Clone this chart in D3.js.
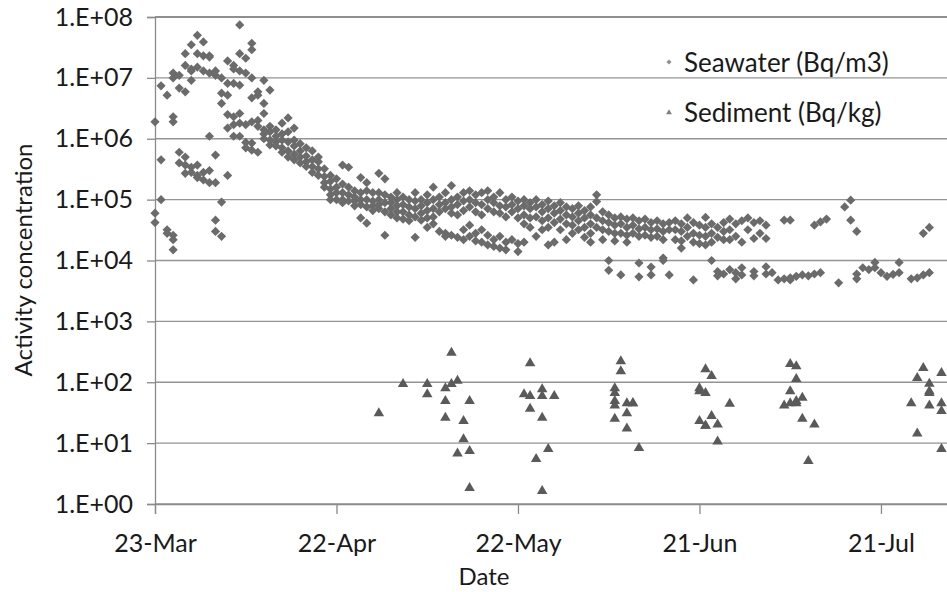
<!DOCTYPE html>
<html>
<head>
<meta charset="utf-8">
<script src="https://cdn.jsdelivr.net/npm/d3@7"></script>
<style>
  body { margin: 0; background: #fff; }
  svg text { font-family: Lato, "Open Sans", sans-serif; fill: #1a1a1a; }
</style>
</head>
<body>
<div id="chart"></div>
<script>
const year = 2011;

// seawater activity (Bq/m3), several stations per sampling day
const seawater = [
  ["3/23", [1.9e6, 6.0e4, 4.2e4]],
  ["3/24", [7.4e6, 4.5e5, 1.0e5]],
  ["3/25", [5.2e6, 3.2e4, 2.8e4]],
  ["3/26", [1.2e7, 1.0e7, 2.3e6, 1.9e6, 2.6e4, 2.2e4, 1.5e4]],
  ["3/27", [1.1e7, 6.8e6, 6.0e5, 4.0e5]],
  ["3/28", [2.5e7, 1.6e7, 5.9e6, 5.0e5, 3.7e5, 2.7e5]],
  ["3/29", [3.5e7, 1.4e7, 1.3e7, 9.1e6, 3.4e5, 2.8e5]],
  ["3/30", [5.0e7, 2.5e7, 1.5e7, 3.7e5, 2.3e5, 2.5e5]],
  ["3/31", [3.9e7, 2.3e7, 1.3e7, 2.1e5, 2.8e5]],
  ["4/1", [2.3e7, 2.2e7, 1.2e7, 1.1e6, 3.0e5, 1.9e5]],
  ["4/2", [1.3e7, 1.1e7, 5.4e5, 1.9e5, 4.6e4, 3.0e4]],
  ["4/3", [1.0e7, 5.6e6, 3.8e6, 9.1e4, 2.5e4]],
  ["4/4", [1.9e7, 8.1e6, 5.2e6, 2.5e6, 1.5e6, 2.5e5]],
  ["4/5", [1.6e7, 1.4e7, 8.1e6, 2.3e6, 1.7e6, 1.1e6]],
  ["4/6", [7.4e7, 2.5e7, 1.3e7, 7.6e6, 2.6e6, 1.8e6, 1.1e6]],
  ["4/7", [2.1e7, 1.2e7, 1.7e6, 8.7e5, 7.1e5]],
  ["4/8", [3.7e7, 2.9e7, 1.0e7, 4.7e6, 1.9e6, 8.5e5, 6.5e5]],
  ["4/9", [5.2e6, 5.9e6, 2.0e6, 1.6e6, 6.0e5]],
  ["4/10", [9.1e6, 3.8e6, 2.6e6, 1.4e6, 1.2e6, 1.0e6]],
  ["4/11", [6.3e6, 1.6e6, 1.3e6, 9.5e5, 7.9e5]],
  ["4/12", [1.4e6, 1.1e6, 8.9e5, 7.6e5]],
  ["4/13", [1.8e6, 1.2e6, 9.5e5, 7.1e5, 6.0e5]],
  ["4/14", [2.2e6, 1.3e6, 8.9e5, 6.3e5, 5.0e5]],
  ["4/15", [1.5e6, 9.5e5, 7.6e5, 5.6e5, 4.5e5]],
  ["4/16", [8.3e5, 6.3e5, 5.0e5, 4.0e5]],
  ["4/17", [7.1e5, 5.2e5, 4.2e5, 3.5e5]],
  ["4/18", [6.3e5, 4.5e5, 3.5e5, 2.8e5]],
  ["4/19", [5.0e5, 4.2e5, 3.2e5, 2.5e5]],
  ["4/20", [3.2e5, 2.4e5, 1.9e5, 1.6e5]],
  ["4/21", [2.5e5, 2.0e5, 1.5e5, 1.2e5, 1.0e5]],
  ["4/22", [2.2e5, 1.6e5, 1.3e5, 1.0e5]],
  ["4/23", [3.7e5, 1.8e5, 1.3e5, 1.0e5, 8.9e4]],
  ["4/24", [3.4e5, 1.6e5, 1.2e5, 9.5e4]],
  ["4/25", [1.4e5, 1.1e5, 9.5e4, 7.9e4]],
  ["4/26", [2.3e5, 1.3e5, 1.0e5, 8.3e4, 5.0e4]],
  ["4/27", [1.9e5, 1.4e5, 1.0e5, 7.6e4, 4.1e4]],
  ["4/28", [1.3e5, 9.5e4, 7.9e4, 6.6e4]],
  ["4/29", [2.7e5, 1.3e5, 1.0e5, 8.3e4, 7.1e4]],
  ["4/30", [2.2e5, 1.2e5, 8.9e4, 6.3e4, 2.6e4]],
  ["5/1", [1.1e5, 8.9e4, 7.1e4, 5.6e4]],
  ["5/2", [1.3e5, 1.0e5, 7.9e4, 6.3e4, 5.0e4]],
  ["5/3", [1.1e5, 8.3e4, 6.3e4, 4.8e4]],
  ["5/4", [1.0e5, 7.6e4, 5.6e4, 4.5e4]],
  ["5/5", [1.3e5, 9.5e4, 7.1e4, 5.2e4, 2.4e4]],
  ["5/6", [1.0e5, 7.9e4, 6.0e4, 4.6e4]],
  ["5/7", [1.2e5, 8.9e4, 6.6e4, 5.0e4, 3.5e4]],
  ["5/8", [1.6e5, 1.0e5, 7.1e4, 5.2e4, 4.0e4]],
  ["5/9", [1.1e5, 8.3e4, 6.3e4, 3.0e4]],
  ["5/10", [1.3e5, 8.9e4, 7.1e4, 2.8e4, 2.5e4]],
  ["5/11", [1.7e5, 1.0e5, 7.6e4, 6.0e4, 2.6e4]],
  ["5/12", [1.1e5, 8.3e4, 5.6e4, 2.4e4]],
  ["5/13", [1.3e5, 9.5e4, 6.6e4, 3.2e4, 2.2e4]],
  ["5/14", [1.4e5, 1.0e5, 7.6e4, 3.8e4, 2.5e4]],
  ["5/15", [1.2e5, 8.9e4, 6.3e4, 2.8e4, 2.1e4]],
  ["5/16", [1.3e5, 8.3e4, 5.6e4, 3.2e4, 2.0e4]],
  ["5/17", [1.4e5, 1.0e5, 7.1e4, 2.6e4, 1.8e4]],
  ["5/18", [1.1e5, 8.9e4, 6.3e4, 2.2e4, 1.7e4]],
  ["5/19", [1.3e5, 7.9e4, 6.0e4, 2.5e4, 1.6e4]],
  ["5/20", [1.0e5, 7.6e4, 5.2e4, 2.0e4, 1.5e4]],
  ["5/21", [1.1e5, 8.3e4, 6.3e4, 2.2e4]],
  ["5/22", [9.5e4, 7.1e4, 5.0e4, 1.9e4, 1.4e4]],
  ["5/23", [1.0e5, 7.9e4, 5.6e4, 4.0e4, 2.0e4]],
  ["5/24", [8.9e4, 7.1e4, 5.0e4, 3.5e4]],
  ["5/25", [1.0e5, 7.6e4, 5.2e4, 2.5e4]],
  ["5/26", [8.3e4, 6.3e4, 4.5e4, 3.2e4]],
  ["5/27", [9.5e4, 7.1e4, 5.0e4, 3.5e4, 1.8e4]],
  ["5/28", [7.9e4, 6.0e4, 4.2e4, 2.0e4]],
  ["5/29", [8.9e4, 6.6e4, 4.8e4, 3.2e4]],
  ["5/30", [7.6e4, 5.6e4, 4.0e4, 2.2e4]],
  ["5/31", [7.1e4, 5.2e4, 3.8e4, 2.8e4]],
  ["6/1", [7.9e4, 6.0e4, 4.5e4, 3.2e4]],
  ["6/2", [6.6e4, 5.0e4, 3.5e4, 2.4e4]],
  ["6/3", [7.6e4, 5.6e4, 4.0e4, 2.8e4, 2.0e4]],
  ["6/4", [1.2e5, 9.3e4, 5.0e4, 3.5e4]],
  ["6/5", [6.3e4, 4.5e4, 3.2e4, 2.2e4]],
  ["6/6", [5.6e4, 4.2e4, 3.0e4, 1.0e4, 6.9e3]],
  ["6/7", [5.0e4, 3.8e4, 2.8e4, 2.1e4]],
  ["6/8", [5.2e4, 4.0e4, 2.8e4, 5.8e3]],
  ["6/9", [4.8e4, 3.5e4, 2.6e4, 2.0e4]],
  ["6/10", [5.0e4, 3.8e4, 2.8e4]],
  ["6/11", [4.5e4, 3.3e4, 2.5e4, 9.1e3, 5.4e3]],
  ["6/12", [4.8e4, 3.5e4, 2.6e4]],
  ["6/13", [4.2e4, 3.2e4, 2.4e4, 7.8e3, 5.8e3]],
  ["6/14", [4.5e4, 3.3e4, 2.5e4]],
  ["6/15", [4.0e4, 3.0e4, 2.2e4, 1.1e4, 1.0e4]],
  ["6/16", [4.2e4, 3.2e4, 5.8e3]],
  ["6/17", [4.5e4, 3.2e4, 2.2e4]],
  ["6/18", [4.0e4, 3.0e4, 2.1e4, 1.6e4]],
  ["6/19", [5.0e4, 3.5e4, 2.5e4]],
  ["6/20", [4.2e4, 2.8e4, 2.0e4, 4.8e3]],
  ["6/21", [3.8e4, 2.6e4, 1.9e4]],
  ["6/22", [5.1e4, 3.5e4, 2.5e4, 1.8e4]],
  ["6/23", [4.0e4, 2.8e4, 2.0e4, 1.0e4]],
  ["6/24", [3.5e4, 2.4e4, 6.6e3, 5.6e3]],
  ["6/25", [4.2e4, 3.0e4, 2.2e4, 6.0e3]],
  ["6/26", [4.8e4, 3.2e4, 2.2e4, 7.1e3]],
  ["6/27", [4.0e4, 2.5e4, 6.3e3, 5.0e3]],
  ["6/28", [4.5e4, 2.0e4, 7.6e3, 5.8e3]],
  ["6/29", [5.0e4, 3.2e4]],
  ["6/30", [4.2e4, 2.3e4, 6.6e3, 5.6e3]],
  ["7/1", [4.5e4, 2.8e4]],
  ["7/2", [3.8e4, 2.3e4, 7.9e3, 6.0e3]],
  ["7/3", [6.3e3]],
  ["7/4", [4.8e3]],
  ["7/5", [4.6e4, 5.0e3]],
  ["7/6", [4.6e4, 4.8e3, 5.2e3]],
  ["7/7", [5.5e3]],
  ["7/8", [5.8e3]],
  ["7/9", [5.6e3]],
  ["7/10", [3.8e4, 6.0e3]],
  ["7/11", [4.3e4, 6.3e3]],
  ["7/12", [4.8e4]],
  ["7/14", [4.3e3]],
  ["7/15", [7.6e4]],
  ["7/16", [9.8e4, 4.6e4]],
  ["7/17", [3.0e4, 6.0e3, 5.0e3]],
  ["7/18", [7.6e3]],
  ["7/19", [7.1e3]],
  ["7/20", [9.3e3, 7.6e3]],
  ["7/21", [6.3e3]],
  ["7/22", [5.5e3]],
  ["7/23", [5.9e3]],
  ["7/24", [9.3e3, 6.3e3]],
  ["7/26", [5.0e3]],
  ["7/27", [5.2e3]],
  ["7/28", [2.8e4, 5.8e3]],
  ["7/29", [3.5e4, 6.3e3]]
];

// sediment activity (Bq/kg)
const sediment = [
  ["4/29", [32]],
  ["5/3", [97]],
  ["5/7", [97, 66]],
  ["5/10", [83, 51, 27]],
  ["5/11", [316, 97]],
  ["5/12", [110, 7.0]],
  ["5/13", [24, 12]],
  ["5/14", [51, 7.7, 1.9]],
  ["5/23", [66]],
  ["5/24", [214, 62, 38]],
  ["5/25", [5.7]],
  ["5/26", [80, 62, 27, 1.7]],
  ["5/27", [8.3]],
  ["5/28", [62]],
  ["6/7", [83, 69, 51, 43, 26]],
  ["6/8", [230, 158]],
  ["6/9", [47, 32, 18]],
  ["6/10", [47, 47]],
  ["6/11", [8.6]],
  ["6/21", [83, 74, 24]],
  ["6/22", [170, 69, 20, 20]],
  ["6/23", [132, 29]],
  ["6/24", [21, 11]],
  ["6/26", [46]],
  ["7/5", [43]],
  ["7/6", [208, 74, 47]],
  ["7/7", [190, 117, 51, 47]],
  ["7/8", [58, 26]],
  ["7/9", [5.3]],
  ["7/10", [21]],
  ["7/26", [47]],
  ["7/27", [122, 15]],
  ["7/28", [178]],
  ["7/29", [98, 74, 69, 43]],
  ["7/31", [148, 47, 35, 8.3]]
];

const xDomain = ["3/23", "8/1"];
const xTicks = ["3/23", "4/22", "5/22", "6/21", "7/21"];
const xTickLabels = ["23-Mar", "22-Apr", "22-May", "21-Jun", "21-Jul"];
const yTicks = [1, 1e1, 1e2, 1e3, 1e4, 1e5, 1e6, 1e7, 1e8];
const yTickLabels = ["1.E+00", "1.E+01", "1.E+02", "1.E+03", "1.E+04", "1.E+05", "1.E+06", "1.E+07", "1.E+08"];
const seriesNames = ["Seawater (Bq/m3)", "Sediment (Bq/kg)"];

const parseDate = s => d3.utcParse("%m/%d/%Y")(s + "/" + year);
const flatten = rows => rows.flatMap(([d, vals]) => vals.map(v => ({ date: parseDate(d), value: v })));

const width = 947, height = 592;
const margin = { top: 17, right: 0, bottom: 88, left: 155 };

const svg = d3.select("#chart").append("svg")
  .attr("width", width)
  .attr("height", height);

const x = d3.scaleUtc()
  .domain(xDomain.map(parseDate))
  .range([margin.left, 947.5]);

const y = d3.scaleLog()
  .domain([1, 1e8])
  .range([height - margin.bottom, margin.top]);

// gridlines
svg.append("g")
  .selectAll("line")
  .data(yTicks)
  .join("line")
  .attr("x1", margin.left)
  .attr("x2", width)
  .attr("y1", d => y(d))
  .attr("y2", d => y(d))
  .attr("stroke", (d, i) => i === yTicks.length - 1 ? "#6a6a6a" : "#949494")
  .attr("stroke-width", 1.3);

// y axis
const yAxis = svg.append("g")
  .attr("transform", `translate(${margin.left},0)`)
  .call(d3.axisLeft(y).tickValues(yTicks).tickFormat((d, i) => yTickLabels[i]).tickSize(8).tickPadding(14));
yAxis.select(".domain").attr("stroke", "#8a8a8a").attr("stroke-width", 1.3);
yAxis.selectAll(".tick line").attr("stroke", "#8a8a8a").attr("stroke-width", 1.3);
yAxis.selectAll("text").style("font-size", "25px").attr("fill", "#1a1a1a");

// x axis
const xAxis = svg.append("g")
  .attr("transform", `translate(0,${height - margin.bottom})`)
  .call(d3.axisBottom(x).tickValues(xTicks.map(parseDate)).tickFormat((d, i) => xTickLabels[i]).tickSize(10).tickPadding(20));
xAxis.select(".domain").attr("stroke", "#8a8a8a").attr("stroke-width", 1.3);
xAxis.selectAll(".tick line").attr("stroke", "#8a8a8a").attr("stroke-width", 1.3);
xAxis.selectAll("text").style("font-size", "25px").attr("fill", "#1a1a1a");

// markers
const diamond = r => `M0,${-r}L${r},0L0,${r}L${-r},0Z`;
const triangle = r => `M0,${-r}L${r * 1.05},${r * 0.8}L${-r * 1.05},${r * 0.8}Z`;

svg.append("g")
  .selectAll("path")
  .data(flatten(seawater))
  .join("path")
  .attr("transform", d => `translate(${x(d.date)},${y(d.value)})`)
  .attr("d", diamond(4.6))
  .attr("fill", "#6b6b6b");

svg.append("g")
  .selectAll("path")
  .data(flatten(sediment))
  .join("path")
  .attr("transform", d => `translate(${x(d.date)},${y(d.value)})`)
  .attr("d", triangle(5))
  .attr("fill", "#5a5a5a");

// legend (no background, gridlines run through it)
const legend = svg.append("g");
legend.append("path")
  .attr("transform", "translate(669,62)")
  .attr("d", diamond(2.6))
  .attr("fill", "#909090");
legend.append("path")
  .attr("transform", "translate(669,112)")
  .attr("d", triangle(2.8))
  .attr("fill", "#808080");
legend.selectAll("text")
  .data(seriesNames)
  .join("text")
  .attr("x", 684)
  .attr("y", (d, i) => 63 + i * 50)
  .attr("dy", "0.35em")
  .style("font-size", "26px")
  .text(d => d);

// axis titles
svg.append("text")
  .attr("x", 484)
  .attr("y", 585)
  .attr("text-anchor", "middle")
  .style("font-size", "24px")
  .text("Date");

svg.append("text")
  .attr("transform", "translate(32,260) rotate(-90)")
  .attr("text-anchor", "middle")
  .style("font-size", "24px")
  .text("Activity concentration");
</script>
</body>
</html>
